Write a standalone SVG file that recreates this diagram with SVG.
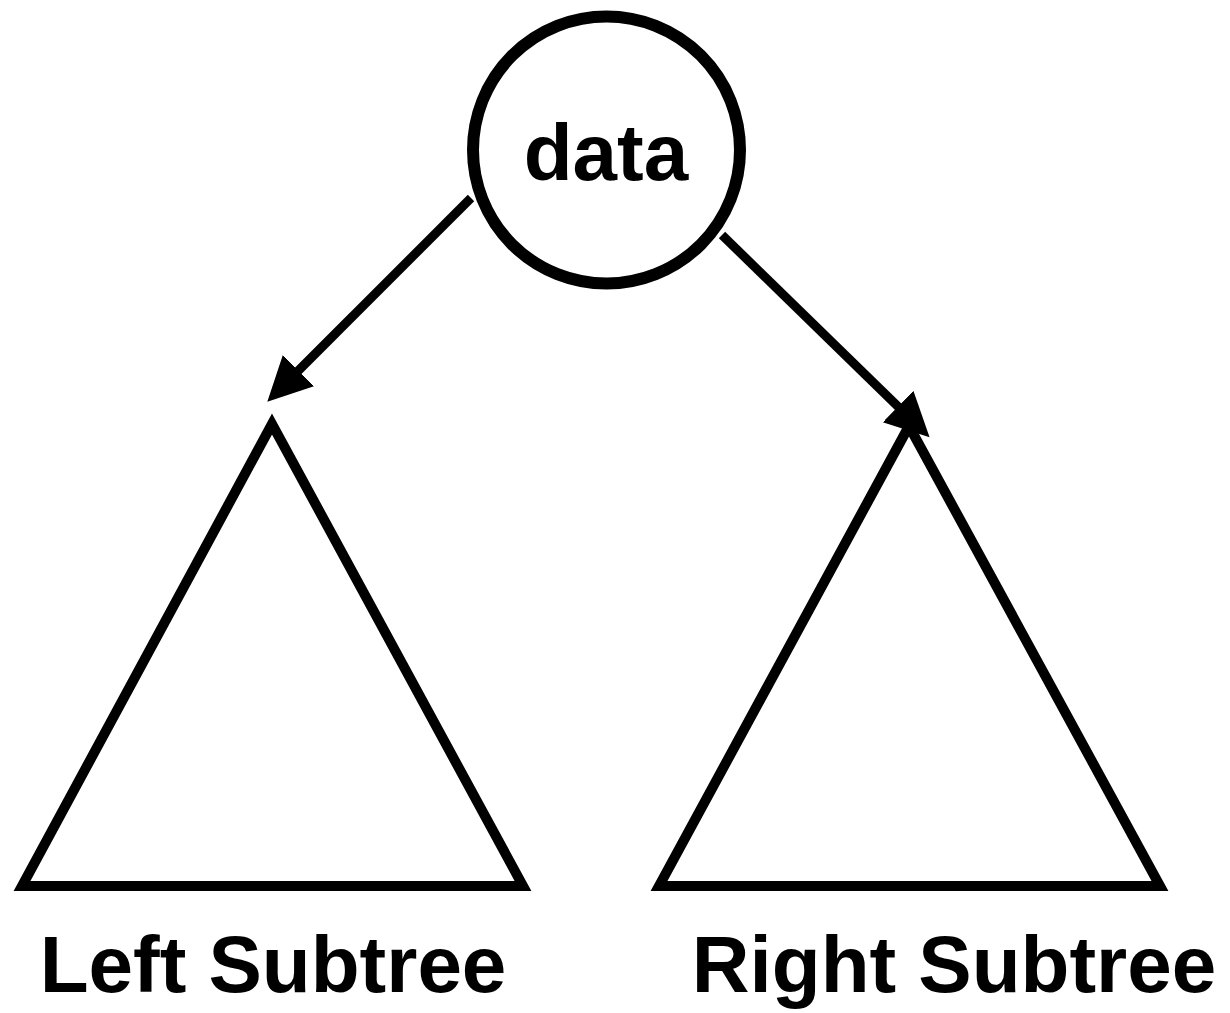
<svg xmlns="http://www.w3.org/2000/svg" width="1230" height="1013" viewBox="0 0 1230 1013">
  <style>
    .shape { fill: none; stroke: #000; stroke-width: 10; stroke-linejoin: miter; stroke-miterlimit: 10; }
    .edge { fill: none; stroke: #000; stroke-width: 9; }
    .label { font-family: "Liberation Sans", Arial, Helvetica, sans-serif; font-weight: bold; font-size: 80px; fill: #000; text-anchor: middle; }
  </style>
  <defs>
    <marker id="arrow" markerUnits="userSpaceOnUse" markerWidth="50" markerHeight="50" viewBox="0 0 50 50" refX="2" refY="22" orient="auto">
      <path d="M0,0 L44,22 L0,44 Z" fill="#000"/>
    </marker>
  </defs>
  <rect width="1230" height="1013" fill="#fff"/>

  <g id="root">
    <circle cx="606.5" cy="150" r="133.5" fill="#fff" stroke="#000" stroke-width="12"/>
    <text class="label" x="606" y="180">data</text>
  </g>

  <g id="left-subtree">
    <polygon class="shape" points="272,424 22,886 523,886"/>
    <text class="label" x="273" y="992">Left Subtree</text>
  </g>

  <g id="right-subtree">
    <polygon class="shape" points="909,426 659,886 1160,886"/>
    <text class="label" x="954" y="992">Right Subtree</text>
  </g>

  <g id="connectors">
    <line class="edge" x1="471" y1="198" x2="297" y2="372" marker-end="url(#arrow)"/>
    <line class="edge" x1="722" y1="235" x2="899.5" y2="408" marker-end="url(#arrow)"/>
  </g>
</svg>
